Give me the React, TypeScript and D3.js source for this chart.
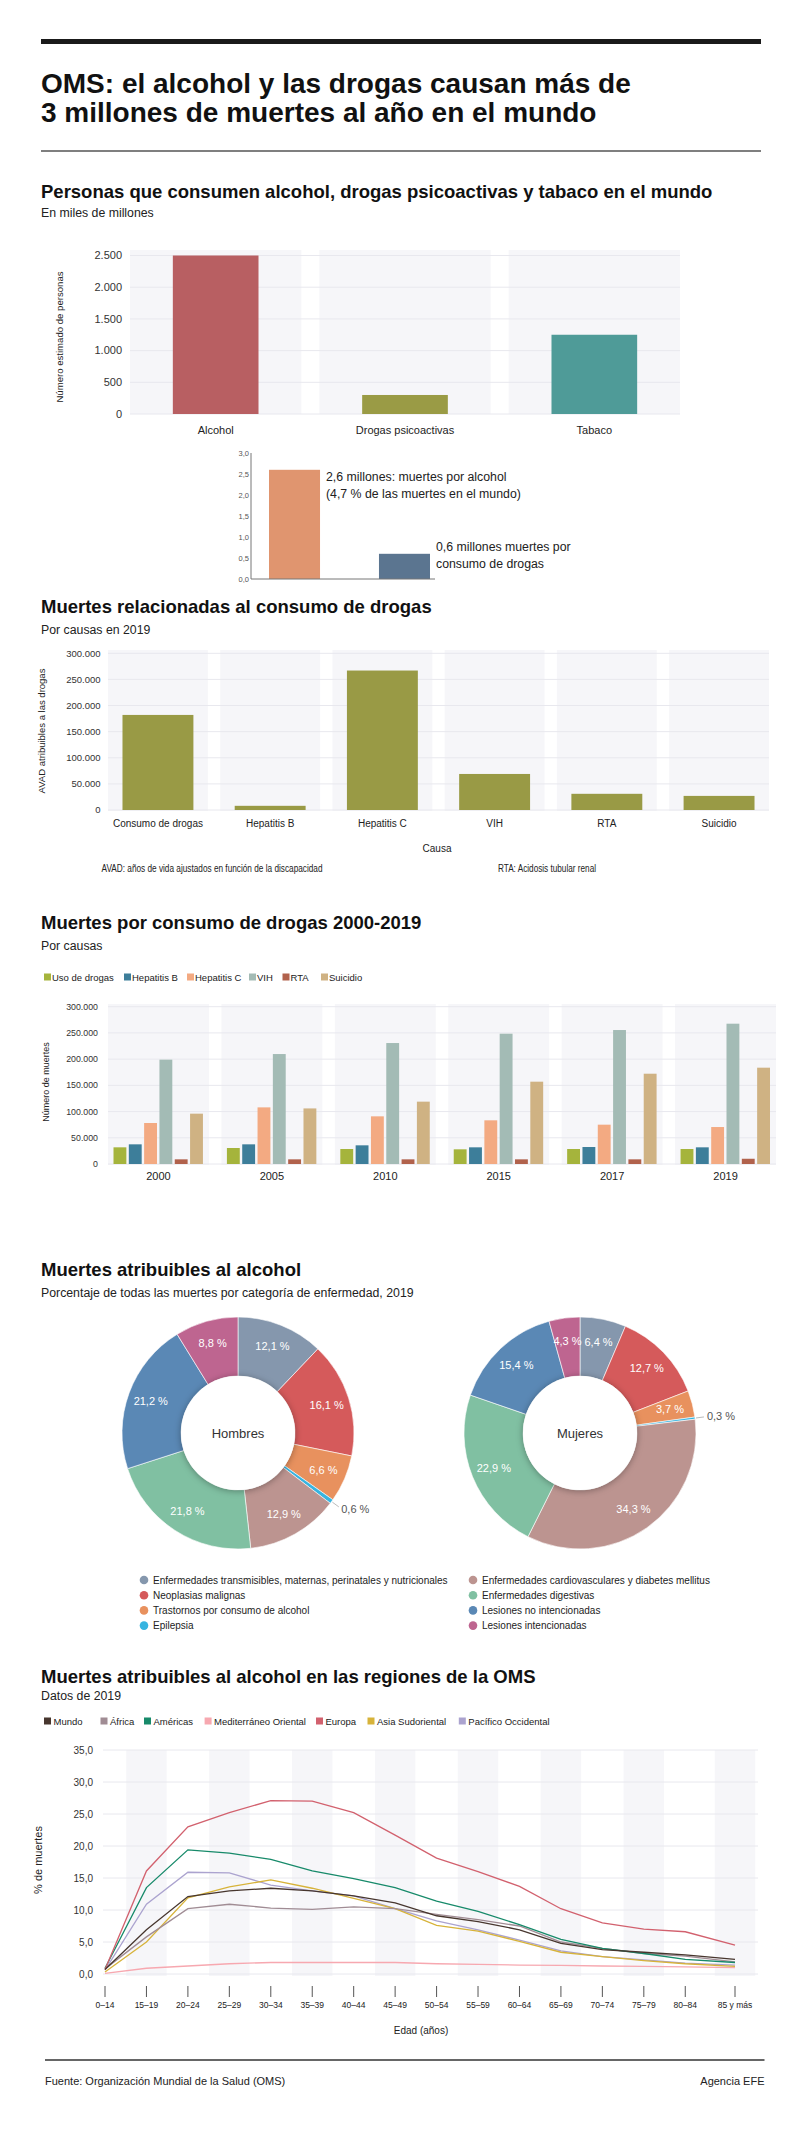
import React from "react";
import * as d3 from "d3";

const FONT = "'Liberation Sans', Arial, Helvetica, sans-serif";

// ---------- Chart 1: consumidores ----------
const consumoCategorias = ["Alcohol", "Drogas psicoactivas", "Tabaco"];
const consumoValores = [2500, 300, 1250];
const consumoColores = ["#B85F62", "#9A9B45", "#4F9B98"];
const consumoTicks = [0, 500, 1000, 1500, 2000, 2500];
const consumoTickLabels = ["0", "500", "1.000", "1.500", "2.000", "2.500"];

// ---------- Small chart: muertes (millones) ----------
const muertesCategorias = ["alcohol", "drogas"];
const muertesValores = [2.6, 0.6];
const muertesColores = ["#E0956F", "#5B7590"];
const muertesTicks = [0, 0.5, 1, 1.5, 2, 2.5, 3];
const muertesTickLabels = ["0,0", "0,5", "1,0", "1,5", "2,0", "2,5", "3,0"];
const muertesTextos = [
  ["2,6 millones: muertes por alcohol", "(4,7 % de las muertes en el mundo)"],
  ["0,6 millones muertes por", "consumo de drogas"],
];

// ---------- Chart 2: AVAD por causa 2019 ----------
const causas = ["Consumo de drogas", "Hepatitis B", "Hepatitis C", "VIH", "RTA", "Suicidio"];
const avadValores = [182000, 8000, 267000, 69000, 31000, 27000];
const ticks300 = [0, 50000, 100000, 150000, 200000, 250000, 300000];
const ticks300Labels = ["0", "50.000", "100.000", "150.000", "200.000", "250.000", "300.000"];

// ---------- Chart 3: muertes 2000-2019 ----------
const anios = ["2000", "2005", "2010", "2015", "2017", "2019"];
const seriesNombres = ["Uso de drogas", "Hepatitis B", "Hepatitis C", "VIH", "RTA", "Suicidio"];
const seriesColores = ["#A5B43C", "#3D7E9A", "#F3AA82", "#A3BBB5", "#B1624C", "#CFB283"];
const usoDrogas = [31800, 30500, 28600, 28000, 28600, 28600];
const hepatitisB = [37500, 37500, 35600, 31800, 32400, 31800];
const hepatitisC = [78200, 108000, 90900, 83300, 75000, 70500];
const vih = [199000, 209700, 230700, 248500, 255500, 267600];
const rta = [8900, 8900, 8900, 8900, 8900, 10000];
const suicidio = [96000, 106000, 118900, 157000, 172200, 183700];

// ---------- Donuts ----------
const enfermedades = [
  "Enfermedades transmisibles, maternas, perinatales y nutricionales",
  "Neoplasias malignas",
  "Trastornos por consumo de alcohol",
  "Epilepsia",
  "Enfermedades cardiovasculares y diabetes mellitus",
  "Enfermedades digestivas",
  "Lesiones no intencionadas",
  "Lesiones intencionadas",
];
const enfermedadesColores = ["#8597AD", "#D55A5B", "#E8915E", "#37B4E0", "#BC9490", "#80C0A2", "#5A88B5", "#BE6590"];
const hombres = [12.1, 16.1, 6.6, 0.6, 12.9, 21.8, 21.2, 8.8];
const mujeres = [6.4, 12.7, 3.7, 0.3, 34.3, 22.9, 15.4, 4.3];

// ---------- Line chart ----------
const edades = ["0–14", "15–19", "20–24", "25–29", "30–34", "35–39", "40–44", "45–49", "50–54", "55–59", "60–64", "65–69", "70–74", "75–79", "80–84", "85 y más"];
const edadPos = [0, 1, 2, 3, 4, 5, 6, 7, 8, 9, 10, 11, 12, 13, 14, 15.2];
const regiones = ["Mundo", "África", "Américas", "Mediterráneo Oriental", "Europa", "Asia Sudoriental", "Pacífico Occidental"];
const regionesColores = ["#47362E", "#A08C94", "#178A6A", "#F7A8B0", "#D2616E", "#D7B33A", "#ABA3CF"];
const mundo = [0.7, 6.9, 12.1, 13.0, 13.4, 13.0, 12.2, 11.1, 9.1, 8.2, 6.9, 4.8, 3.8, 3.4, 3.0, 2.3];
const africa = [0.8, 5.8, 10.2, 10.9, 10.3, 10.1, 10.5, 10.2, 9.3, 8.5, 7.5, 5.0, 4.0, 3.2, 2.8, 1.9];
const americas = [0.9, 13.5, 19.4, 18.9, 17.9, 16.1, 14.9, 13.5, 11.4, 9.8, 7.7, 5.4, 4.0, 3.2, 2.3, 1.8];
const mediterraneo = [0.1, 0.9, 1.25, 1.6, 1.8, 1.8, 1.8, 1.8, 1.6, 1.5, 1.4, 1.35, 1.25, 1.2, 1.1, 1.0];
const europa = [0.7, 16.1, 23.0, 25.2, 27.1, 27.0, 25.2, 21.7, 18.1, 16.0, 13.7, 10.2, 8.0, 7.0, 6.6, 4.5];
const asiaSudoriental = [0.3, 5.0, 11.9, 13.6, 14.7, 13.4, 11.8, 10.2, 7.6, 6.7, 5.1, 3.4, 2.7, 2.1, 1.6, 1.2];
const pacificoOccidental = [0.6, 10.9, 15.9, 15.8, 13.9, 13.0, 12.2, 10.2, 8.3, 6.9, 5.3, 3.6, 2.7, 2.2, 1.7, 1.4];
const lineTicks = [0, 5, 10, 15, 20, 25, 30, 35];

const fmt1 = (v: number) => v.toFixed(1).replace(".", ",");

function Donut({ cx, cy, values, label }: { cx: number; cy: number; values: number[]; label: string }) {
  const R = 116;
  const r = 57;
  const pie = d3.pie<number>().sort(null).value((d) => d)(values);
  const arc = d3.arc<d3.PieArcDatum<number>>().innerRadius(r).outerRadius(R);
  const labelArc = d3.arc<d3.PieArcDatum<number>>().innerRadius(93).outerRadius(93);
  return (
    <g transform={`translate(${cx},${cy})`}>
      {pie.map((p, i) => (
        <path key={i} d={arc(p) || ""} fill={enfermedadesColores[i]} stroke="#fff" strokeWidth={0.6} />
      ))}
      {pie.map((p, i) => {
        if (i === 3) {
          const a = (p.startAngle + p.endAngle) / 2;
          const pt = (rad: number) => [rad * Math.sin(a), -rad * Math.cos(a)];
          const [x0, y0] = pt(R + 1);
          const [x1, y1] = pt(R + 9);
          const [tx, ty] = pt(R + 12);
          return (
            <g key={i}>
              <line x1={x0} y1={y0} x2={x1} y2={y1} stroke="#aaa" strokeWidth={0.8} />
              <text x={tx} y={ty} dy="0.35em" fontSize={11} fill="#555">{fmt1(values[i]) + " %"}</text>
            </g>
          );
        }
        const [lx, ly] = labelArc.centroid(p);
        return (
          <text key={i} x={lx} y={ly} dy="0.35em" textAnchor="middle" fontSize={11} fill="#fff">
            {fmt1(values[i]) + " %"}
          </text>
        );
      })}
      <circle r={r} fill="#fff" filter="url(#holeShadow)" />
      <text y={4.5} textAnchor="middle" fontSize={13} fill="#333">{label}</text>
    </g>
  );
}

export default function App() {
  const W = 800;
  const H = 2129;

  // Chart 1 scales
  const x1 = d3.scaleBand<string>().domain(consumoCategorias).range([130, 680]).paddingInner(0.095);
  const y1 = d3.scaleLinear().domain([0, 2500]).range([414, 255.5]);

  // small chart
  const xs = d3.scaleBand<string>().domain(muertesCategorias).range([269, 430]).paddingInner(0.536);
  const ys = d3.scaleLinear().domain([0, 3]).range([579, 453]);
  const textOffsets = [11, -3];

  // Chart 2
  const x2 = d3.scaleBand<string>().domain(causas).range([108, 769]).paddingInner(0.11);
  const y2 = d3.scaleLinear().domain([0, 300000]).range([810, 653.3]);

  // Chart 3
  const x3 = d3.scaleBand<string>().domain(anios).range([108, 776]).paddingInner(0.11);
  const y3 = d3.scaleLinear().domain([0, 300000]).range([1164, 1006.7]);
  const seriesData = [usoDrogas, hepatitisB, hepatitisC, vih, rta, suicidio];
  const legend3X = [44, 124, 187, 249, 282.5, 321];

  // Line chart
  const xL = d3.scaleLinear().domain([0, 15.2]).range([105, 735]);
  const yL = d3.scaleLinear().domain([0, 35]).range([1974, 1750]);
  const stepL = xL(1) - xL(0);
  const lineData = [mundo, africa, americas, mediterraneo, europa, asiaSudoriental, pacificoOccidental];
  const lineGen = d3.line<number>().x((_, i) => xL(edadPos[i])).y((d) => yL(d));
  const legendLX = [44, 100.5, 144, 204.6, 316, 367.5, 458.8];
  const drawOrder = [3, 6, 5, 1, 2, 4, 0];

  const titleStyle = { fontSize: 18.5, fontWeight: 700, fill: "#111" } as const;
  const subStyle = { fontSize: 12.3, fill: "#222" } as const;

  return (
    <svg width={W} height={H} style={{ position: "absolute", left: 0, top: 0, background: "#fff" }} fontFamily={FONT}>
      <defs>
        <filter id="holeShadow" x="-40%" y="-40%" width="180%" height="180%">
          <feDropShadow dx="0" dy="1" stdDeviation="3.5" floodColor="#000" floodOpacity="0.35" />
        </filter>
      </defs>
      <rect width={W} height={H} fill="#fff" />

      {/* Header */}
      <rect x={41} y={39} width={720} height={5} fill="#1a1a1a" />
      <text x={41} y={93} fontSize={28} fontWeight={700} fill="#111">OMS: el alcohol y las drogas causan más de</text>
      <text x={41} y={122} fontSize={28} fontWeight={700} fill="#111">3 millones de muertes al año en el mundo</text>
      <line x1={41} x2={761} y1={151} y2={151} stroke="#555" strokeWidth={1.5} />

      {/* Section 1 */}
      <text x={41} y={198} {...titleStyle}>Personas que consumen alcohol, drogas psicoactivas y tabaco en el mundo</text>
      <text x={41} y={217} {...subStyle}>En miles de millones</text>
      {consumoCategorias.map((c) => (
        <rect key={c} x={x1(c)} y={250} width={x1.bandwidth()} height={164} fill="#f6f6f9" />
      ))}
      {consumoTicks.map((t, i) => (
        <g key={t}>
          <line x1={130} x2={680} y1={y1(t)} y2={y1(t)} stroke="#e8e8ee" strokeWidth={1} />
          <text x={122} y={y1(t)} dy="0.35em" textAnchor="end" fontSize={11} fill="#333">{consumoTickLabels[i]}</text>
        </g>
      ))}
      {consumoCategorias.map((c, i) => {
        const bw = x1.bandwidth() * 0.5;
        const bx = (x1(c) as number) + (x1.bandwidth() - bw) / 2;
        return (
          <g key={c}>
            <rect x={bx} y={y1(consumoValores[i])} width={bw} height={y1(0) - y1(consumoValores[i])} fill={consumoColores[i]} />
            <text x={(x1(c) as number) + x1.bandwidth() / 2} y={434} textAnchor="middle" fontSize={11} fill="#222">{c}</text>
          </g>
        );
      })}
      <text transform={`translate(63,337) rotate(-90)`} textAnchor="middle" fontSize={9.6} fill="#222">Número estimado de personas</text>

      {/* small chart */}
      {muertesTicks.map((t, i) => (
        <text key={t} x={249} y={ys(t)} dy="0.35em" textAnchor="end" fontSize={7.5} fill="#555">{muertesTickLabels[i]}</text>
      ))}
      {muertesCategorias.map((c, i) => {
        const bx = xs(c) as number;
        return (
          <g key={c}>
            <rect x={bx} y={ys(muertesValores[i])} width={xs.bandwidth()} height={ys(0) - ys(muertesValores[i])} fill={muertesColores[i]} />
            {muertesTextos[i].map((line, j) => (
              <text key={j} x={bx + xs.bandwidth() + 6} y={ys(muertesValores[i]) + textOffsets[i] + j * 17} fontSize={12.3} fill="#222">{line}</text>
            ))}
          </g>
        );
      })}
      <line x1={251} x2={251} y1={453} y2={579} stroke="#777" strokeWidth={1} />
      <line x1={251} x2={435} y1={579} y2={579} stroke="#777" strokeWidth={1} />

      {/* Section 2 */}
      <text x={41} y={613} {...titleStyle}>Muertes relacionadas al consumo de drogas</text>
      <text x={41} y={634} {...subStyle}>Por causas en 2019</text>
      {causas.map((c) => (
        <rect key={c} x={x2(c)} y={650} width={x2.bandwidth()} height={161} fill="#f6f6f9" />
      ))}
      {ticks300.map((t, i) => (
        <g key={t}>
          <line x1={108} x2={769} y1={y2(t)} y2={y2(t)} stroke="#e8e8ee" strokeWidth={1} />
          <text x={100.5} y={y2(t)} dy="0.35em" textAnchor="end" fontSize={9.5} fill="#333">{ticks300Labels[i]}</text>
        </g>
      ))}
      {causas.map((c, i) => {
        const bw = x2.bandwidth() * 0.71;
        const bx = (x2(c) as number) + (x2.bandwidth() - bw) / 2;
        return (
          <g key={c}>
            <rect x={bx} y={y2(avadValores[i])} width={bw} height={y2(0) - y2(avadValores[i])} fill="#999A45" />
            <text x={(x2(c) as number) + x2.bandwidth() / 2} y={827} textAnchor="middle" fontSize={10} fill="#222">{c}</text>
          </g>
        );
      })}
      <text transform={`translate(45,731) rotate(-90)`} textAnchor="middle" fontSize={9.5} fill="#222">AVAD atribuibles a las drogas</text>
      <text x={437} y={852} textAnchor="middle" fontSize={10} fill="#222">Causa</text>
      <text x={101.5} y={872} fontSize={10.5} fill="#222" textLength={221} lengthAdjust="spacingAndGlyphs">AVAD: años de vida ajustados en función de la discapacidad</text>
      <text x={498} y={872} fontSize={10.5} fill="#222" textLength={98} lengthAdjust="spacingAndGlyphs">RTA: Acidosis tubular renal</text>

      {/* Section 3 */}
      <text x={41} y={929} {...titleStyle}>Muertes por consumo de drogas 2000-2019</text>
      <text x={41} y={950} {...subStyle}>Por causas</text>
      {seriesNombres.map((s, i) => (
        <g key={s}>
          <rect x={legend3X[i]} y={973.5} width={7} height={7} fill={seriesColores[i]} />
          <text x={legend3X[i] + 8} y={980.5} fontSize={9.5} fill="#222">{s}</text>
        </g>
      ))}
      {anios.map((a) => (
        <rect key={a} x={x3(a)} y={1004} width={x3.bandwidth()} height={161} fill="#f6f6f9" />
      ))}
      {ticks300.map((t, i) => (
        <g key={t}>
          <line x1={108} x2={776} y1={y3(t)} y2={y3(t)} stroke="#e8e8ee" strokeWidth={1} />
          <text x={98} y={y3(t)} dy="0.35em" textAnchor="end" fontSize={8.8} fill="#333">{ticks300Labels[i]}</text>
        </g>
      ))}
      {anios.map((a, ai) => {
        const gx = x3(a) as number;
        const inner = d3.scaleBand<string>().domain(seriesNombres).range([gx + 5.5, gx + x3.bandwidth() - 6]).paddingInner(0.16);
        return (
          <g key={a}>
            {seriesNombres.map((s, si) => {
              const v = seriesData[si][ai];
              return <rect key={s} x={inner(s)} y={y3(v)} width={inner.bandwidth()} height={y3(0) - y3(v)} fill={seriesColores[si]} />;
            })}
            <text x={gx + x3.bandwidth() / 2} y={1180} textAnchor="middle" fontSize={11} fill="#222">{a}</text>
          </g>
        );
      })}
      <text transform={`translate(49,1082) rotate(-90)`} textAnchor="middle" fontSize={9} fill="#222">Número de muertes</text>

      {/* Section 4 */}
      <text x={41} y={1276} {...titleStyle}>Muertes atribuibles al alcohol</text>
      <text x={41} y={1297} {...subStyle}>Porcentaje de todas las muertes por categoría de enfermedad, 2019</text>
      <Donut cx={238} cy={1433} values={hombres} label="Hombres" />
      <Donut cx={580} cy={1433} values={mujeres} label="Mujeres" />
      {enfermedades.map((e, i) => {
        const col = Math.floor(i / 4);
        const row = i % 4;
        const cxp = col === 0 ? 144 : 473;
        const cyp = 1580 + row * 15.2;
        return (
          <g key={e}>
            <circle cx={cxp} cy={cyp} r={4.3} fill={enfermedadesColores[i]} />
            <text x={cxp + 9} y={cyp + 3.5} fontSize={10} fill="#222">{e}</text>
          </g>
        );
      })}

      {/* Section 5 */}
      <text x={41} y={1683} {...titleStyle}>Muertes atribuibles al alcohol en las regiones de la OMS</text>
      <text x={41} y={1700} {...subStyle}>Datos de 2019</text>
      {regiones.map((r, i) => (
        <g key={r}>
          <rect x={legendLX[i]} y={1717.5} width={7} height={7} fill={regionesColores[i]} />
          <text x={legendLX[i] + 9.5} y={1724.5} fontSize={9.5} fill="#222">{r}</text>
        </g>
      ))}
      {edadPos.map((p, i) =>
        i % 2 === 1 ? (
          <rect key={i} x={xL(p) - stepL / 2 + 0.5} y={1750} width={stepL - 1} height={226} fill="#f6f6f9" />
        ) : null
      )}
      {lineTicks.map((t) => (
        <g key={t}>
          <line x1={103} x2={758} y1={yL(t)} y2={yL(t)} stroke="#e8e8ee" strokeWidth={1} />
          <text x={93} y={yL(t)} dy="0.35em" textAnchor="end" fontSize={10} fill="#333">{fmt1(t)}</text>
        </g>
      ))}
      {drawOrder.map((ri) => (
        <path key={ri} d={lineGen(lineData[ri]) || ""} fill="none" stroke={regionesColores[ri]} strokeWidth={1.3} />
      ))}
      {edadPos.map((p, i) => (
        <g key={i}>
          <line x1={xL(p)} x2={xL(p)} y1={1986} y2={1997} stroke="#555" strokeWidth={1} />
          <text x={xL(p)} y={2008} textAnchor="middle" fontSize={8.5} fill="#222">{edades[i]}</text>
        </g>
      ))}
      <text transform={`translate(42,1860) rotate(-90)`} textAnchor="middle" fontSize={11} fill="#222">% de muertes</text>
      <text x={421} y={2034} textAnchor="middle" fontSize={10} fill="#222">Edad (años)</text>

      {/* Footer */}
      <line x1={45} x2={764.5} y1={2060} y2={2060} stroke="#333" strokeWidth={1.5} />
      <text x={45} y={2085} fontSize={11} fill="#222">Fuente: Organización Mundial de la Salud (OMS)</text>
      <text x={764.5} y={2085} textAnchor="end" fontSize={11} fill="#222">Agencia EFE</text>
    </svg>
  );
}
